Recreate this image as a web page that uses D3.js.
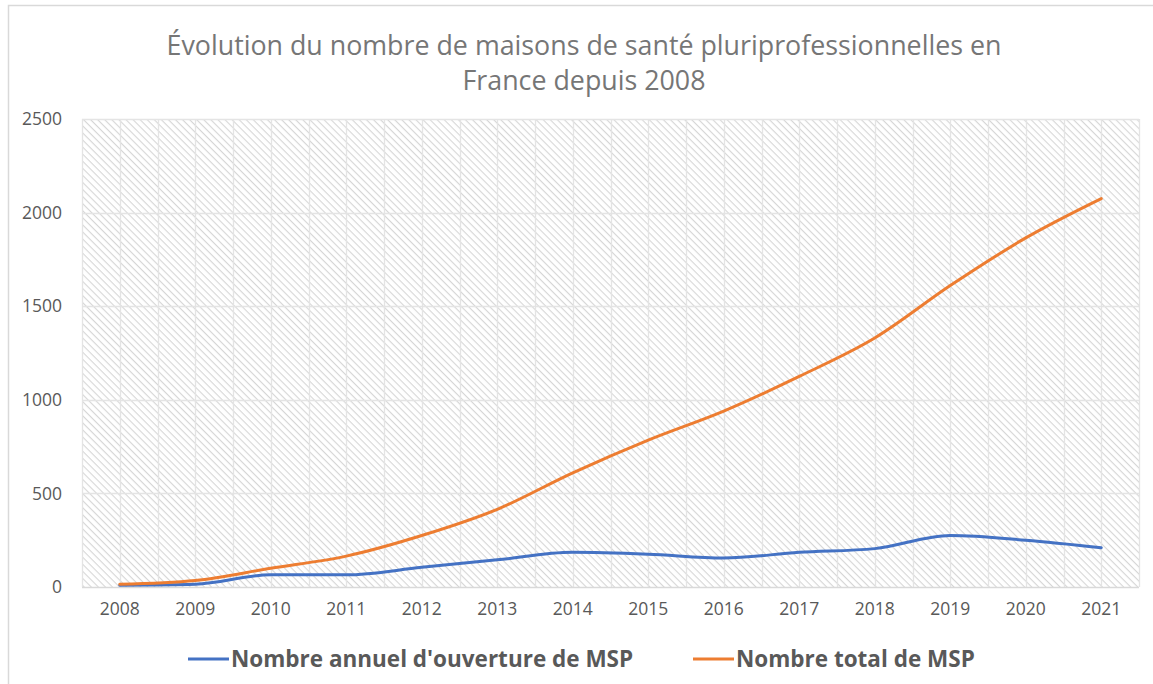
<!DOCTYPE html>
<html lang="fr">
<head>
<meta charset="utf-8">
<script src="https://cdn.jsdelivr.net/npm/d3@7/dist/d3.min.js"></script>
<style>
  html, body { margin: 0; padding: 0; background: #fff; }
  svg { display: block; }
  text { font-family: "Open Sans", Lato, sans-serif; }
</style>
</head>
<body>
<svg id="chart" width="1153" height="684"></svg>
<script>
// Years on the x axis
const years = ["2008","2009","2010","2011","2012","2013","2014","2015","2016","2017","2018","2019","2020","2021"];
// Annual openings of MSP
const annualOpenings = [10, 15, 65, 65, 105, 145, 185, 175, 155, 185, 205, 275, 250, 210];
// Cumulative number of MSP
const totalMSP = [15, 35, 100, 165, 275, 415, 610, 785, 940, 1125, 1330, 1610, 1865, 2075];
// Y axis ticks
const yTicks = [0, 500, 1000, 1500, 2000, 2500];

const seriesNames = ["Nombre annuel d'ouverture de MSP", "Nombre total de MSP"];
const seriesColors = ["#4472c4", "#ed7d31"];
const titleLines = ["Évolution du nombre de maisons de santé pluriprofessionnelles en", "France depuis 2008"];

const svg = d3.select("#chart");
const W = 1153, H = 684;
const plot = { left: 82, right: 1139, top: 119, bottom: 587 };

// Chart frame
svg.append("path")
  .attr("d", `M8.5,${H} V5.5 H${W}`)
  .attr("fill", "none")
  .attr("stroke", "#d9d9d9")
  .attr("stroke-width", 1.5);

// Diagonal hatch fill for the plot area (lines running top-left to bottom-right)
const defs = svg.append("defs");
const pat = defs.append("pattern")
  .attr("id", "hatch")
  .attr("patternUnits", "userSpaceOnUse")
  .attr("width", 5).attr("height", 5)
  .attr("patternTransform", "rotate(45)");
pat.append("rect").attr("width", 5).attr("height", 5).attr("fill", "#ffffff");
pat.append("line")
  .attr("x1", 0).attr("y1", 0).attr("x2", 5).attr("y2", 0)
  .attr("stroke", "#d6d6d6").attr("stroke-width", 2.2);

const x = d3.scaleBand().domain(years).range([plot.left, plot.right]);
const y = d3.scaleLinear().domain([0, 2500]).range([plot.bottom, plot.top]);
const xc = d => x(d) + x.bandwidth() / 2;

svg.append("rect")
  .attr("x", plot.left).attr("y", plot.top)
  .attr("width", plot.right - plot.left).attr("height", plot.bottom - plot.top)
  .attr("fill", "url(#hatch)");

// Vertical gridlines at band edges and centres
const vLines = [];
years.forEach(d => { vLines.push(x(d)); vLines.push(xc(d)); });
vLines.push(plot.right);
svg.append("g").selectAll("line").data(vLines).join("line")
  .attr("x1", d => Math.round(d) + 0.5).attr("x2", d => Math.round(d) + 0.5)
  .attr("y1", plot.top).attr("y2", plot.bottom)
  .attr("stroke", "#e4e4e4").attr("stroke-width", 1.3);

// Horizontal gridlines
svg.append("g").selectAll("line").data(yTicks).join("line")
  .attr("x1", plot.left).attr("x2", plot.right)
  .attr("y1", d => Math.round(y(d)) + 0.5).attr("y2", d => Math.round(y(d)) + 0.5)
  .attr("stroke", d => d === 0 ? "#d9d9d9" : "#e4e4e4").attr("stroke-width", 1.3);

// Y axis labels
const yAxis = d3.axisLeft(y).tickValues(yTicks).tickFormat(d3.format("d")).tickSize(0).tickPadding(0);
const gy = svg.append("g").attr("transform", "translate(62,0)").call(yAxis);
gy.select(".domain").remove();
gy.selectAll("text").attr("font-size", 17.5).attr("fill", "#595959")
  .attr("font-family", "'Open Sans', sans-serif");

// X axis labels
const xAxis = d3.axisBottom(x).tickSize(0).tickPadding(0);
const gx = svg.append("g").attr("transform", `translate(0,${plot.bottom + 16})`).call(xAxis);
gx.select(".domain").remove();
gx.selectAll("text").attr("font-size", 17.5).attr("fill", "#595959")
  .attr("font-family", "'Open Sans', sans-serif");

// Series lines
const line = d3.line()
  .x((d, i) => xc(years[i]))
  .y(d => y(d))
  .curve(d3.curveMonotoneX);

[annualOpenings, totalMSP].forEach((vals, k) => {
  svg.append("path")
    .datum(vals)
    .attr("d", line)
    .attr("fill", "none")
    .attr("stroke", seriesColors[k])
    .attr("stroke-width", 3)
    .attr("stroke-linejoin", "round")
    .attr("stroke-linecap", "round");
});

// Title
svg.append("g").selectAll("text").data(titleLines).join("text")
  .attr("x", 584).attr("y", (d, i) => 55 + i * 35)
  .attr("text-anchor", "middle")
  .attr("font-size", 26.8)
  .attr("fill", "#767676")
  .text(d => d);

// Legend
const legendX = [188, 693];
const lg = svg.append("g");
seriesNames.forEach((name, k) => {
  lg.append("line")
    .attr("x1", legendX[k]).attr("x2", legendX[k] + 41)
    .attr("y1", 659).attr("y2", 659)
    .attr("stroke", seriesColors[k]).attr("stroke-width", 3);
  lg.append("text")
    .attr("x", legendX[k] + 43).attr("y", 667)
    .attr("font-size", 22.5).attr("font-weight", 700)
    .attr("fill", "#595959")
    .text(name);
});
</script>
</body>
</html>
